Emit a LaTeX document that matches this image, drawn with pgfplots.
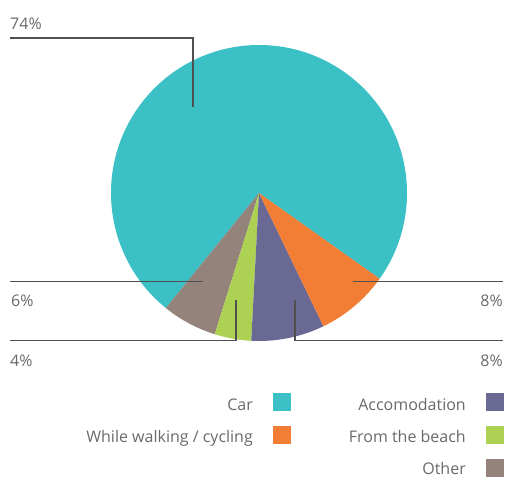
\documentclass[border=0pt]{standalone}
\usepackage{pgfplots}
\pgfplotsset{compat=1.18}
\usepackage{fontspec}
\setmainfont{Open Sans}
\definecolor{carc}{RGB}{59,192,197}
\definecolor{walkc}{RGB}{242,125,52}
\definecolor{accc}{RGB}{105,105,148}
\definecolor{beachc}{RGB}{173,210,83}
\definecolor{otherc}{RGB}{148,131,122}
\definecolor{txt}{RGB}{105,105,105}
\definecolor{lin}{RGB}{80,80,80}
\begin{document}
\begin{tikzpicture}
\begin{axis}[
  scale only axis, width=507pt, height=477pt,
  xmin=0, xmax=507, ymin=0, ymax=477, y dir=reverse,
  hide axis, clip=false,
]
\coordinate (tl) at (axis cs:0,0);
\coordinate (br) at (axis cs:507,477);
% pie slices: percentage / colour, counterclockwise from start angle -35.4
\gdef\s{-35.4}
\foreach \v/\c in {74/carc, 6/otherc, 4/beachc, 8/accc, 8/walkc} {
  \pgfmathsetmacro\e{\s+3.6*\v}
  \edef\tmp{\noexpand\fill[\c] (axis cs:259,193) -- ++(\s:148pt) arc[start angle=\s, end angle=\e, radius=148pt] -- cycle;}
  \tmp
  \xdef\s{\e}
}
% leader lines
\draw[lin, line width=1.4pt] (axis cs:10,38) -- (axis cs:193,38) -- (axis cs:193,107);
\draw[lin, line width=1.4pt] (axis cs:10,281.5) -- (axis cs:203,281.5);
\draw[lin, line width=1.4pt] (axis cs:353,281.5) -- (axis cs:503,281.5);
\draw[lin, line width=1.4pt] (axis cs:10,340.5) -- (axis cs:236,340.5) -- (axis cs:236,300);
\draw[lin, line width=1.4pt] (axis cs:503,340.5) -- (axis cs:295,340.5) -- (axis cs:295,300);
% percentages
\begin{scope}[font=\fontsize{16}{18}\selectfont, text=txt, inner sep=0pt]
\node[anchor=base west] at (axis cs:10,29) {74\%};
\node[anchor=base west] at (axis cs:11,306) {6\%};
\node[anchor=base east] at (axis cs:503,306) {8\%};
\node[anchor=base west] at (axis cs:10,366) {4\%};
\node[anchor=base east] at (axis cs:503,366) {8\%};
% legend
\node[anchor=base east] at (axis cs:253,410) {Car};
\node[anchor=base east] at (axis cs:253,442) {While walking / cycling};
\node[anchor=base east] at (axis cs:466,410) {Accomodation};
\node[anchor=base east] at (axis cs:466,442) {From the beach};
\node[anchor=base east] at (axis cs:466,474) {Other};
\end{scope}
\fill[carc] (axis cs:273,393) rectangle (axis cs:291,411);
\fill[walkc] (axis cs:273,426) rectangle (axis cs:291,444);
\fill[accc] (axis cs:486,393) rectangle (axis cs:504,411);
\fill[beachc] (axis cs:486,426) rectangle (axis cs:504,444);
\fill[otherc] (axis cs:486,459) rectangle (axis cs:504,477);
\end{axis}
\pgfresetboundingbox
\path[use as bounding box] (tl) rectangle (br);
\end{tikzpicture}
\end{document}
